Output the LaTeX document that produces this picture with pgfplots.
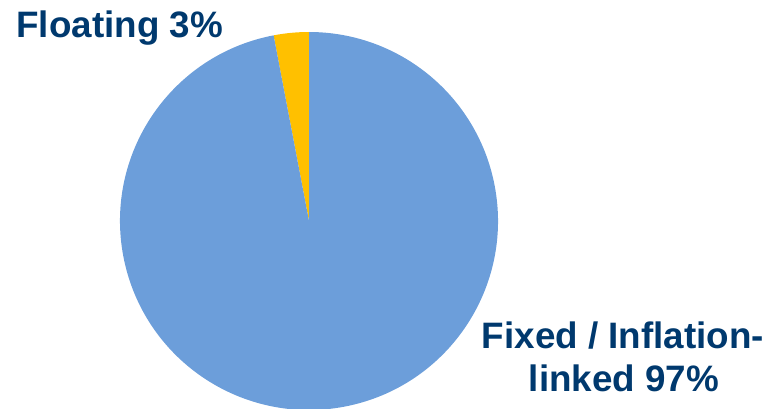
\documentclass[border=0pt]{standalone}
\usepackage{pgfplots}
\pgfplotsset{compat=1.18}
\usepackage{fontspec}
\setmainfont{Liberation Sans}
\definecolor{pieblue}{HTML}{6C9EDA}
\definecolor{pieyellow}{HTML}{FFC000}
\definecolor{navy}{HTML}{00396E}
% shares (%)
\def\valFloating{3}
\def\valFixed{97}
\begin{document}
\begin{tikzpicture}
\useasboundingbox (0,0) rectangle (391pt,204pt);
\begin{axis}[
  at={(0,0)}, anchor=south west,
  scale only axis, width=391pt, height=204pt,
  xmin=0, xmax=782, ymin=0, ymax=408,
  hide axis, clip=false]
  \pgfmathsetmacro{\aF}{90+3.6*\valFloating}
  \pgfmathsetmacro{\aE}{\aF+3.6*\valFixed}
  \fill[pieyellow] (axis cs:309,187) -- ++(90:94.5pt) arc[start angle=90, end angle=\aF, radius=94.5pt] -- cycle;
  \fill[pieblue] (axis cs:309,187) -- ++(\aF:94.5pt) arc[start angle=\aF, end angle=\aE, radius=94.5pt] -- cycle;
  \node[anchor=base west, inner sep=0pt, text=navy, font=\fontsize{18.4}{21.5}\selectfont\bfseries] at (axis cs:16,371) {Floating 3\%};
  \node[anchor=base, inner sep=0pt, text=navy, font=\fontsize{18.4}{21.5}\selectfont\bfseries] at (axis cs:623,60) {Fixed / Inflation-};
  \node[anchor=base, inner sep=0pt, text=navy, font=\fontsize{18.4}{21.5}\selectfont\bfseries] at (axis cs:624,17) {linked 97\%};
\end{axis}
\end{tikzpicture}
\end{document}
